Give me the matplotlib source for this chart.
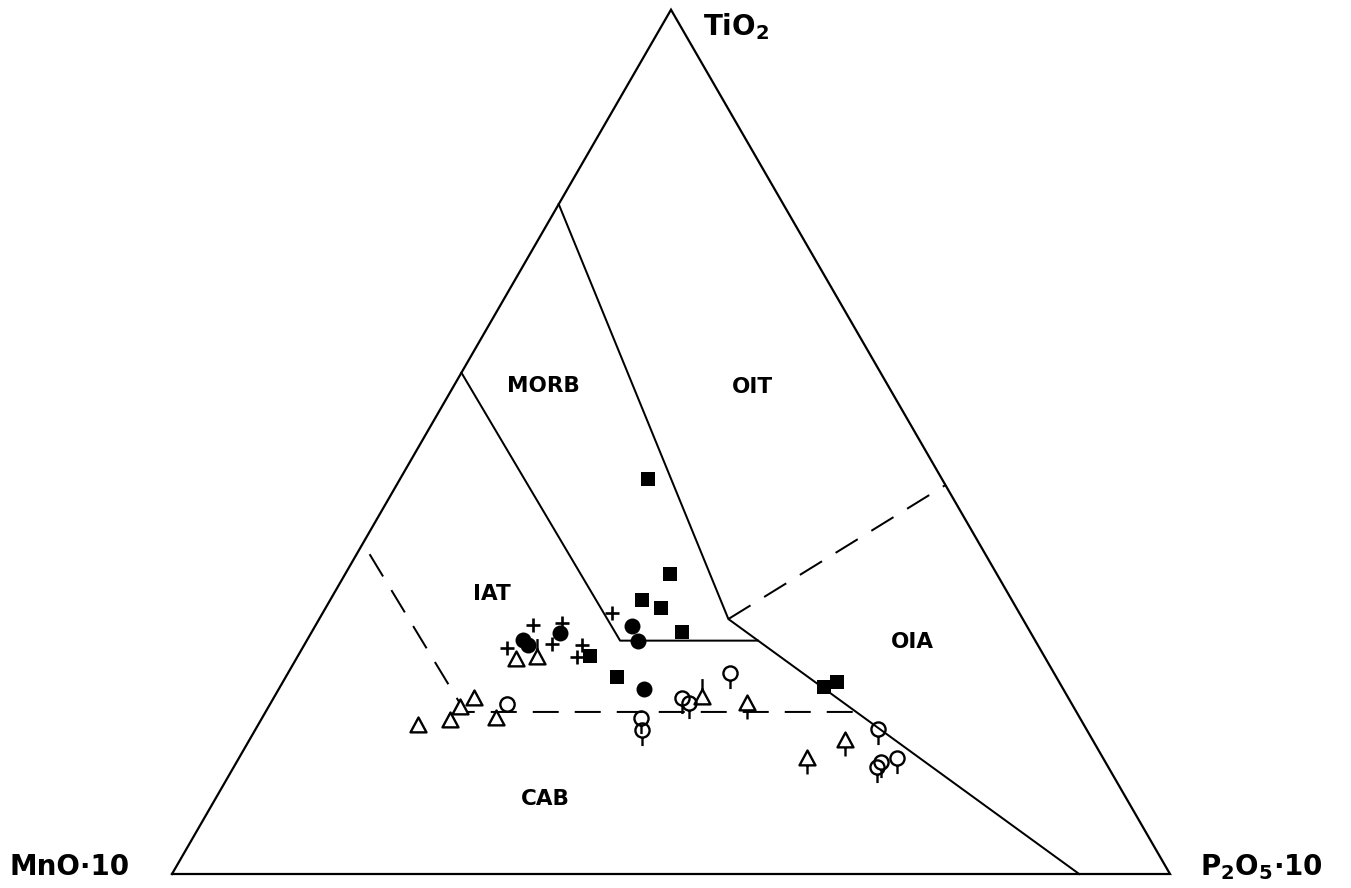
import numpy as np
import matplotlib
matplotlib.use("Agg")
import matplotlib.pyplot as plt
from matplotlib.path import Path

plt.rcParams['font.family'] = ['DejaVu Sans']
plt.rcParams['mathtext.fontset'] = 'dejavusans'
plt.rcParams['mathtext.default'] = 'bf'

# Compositions in percent: (MnO*10, TiO2, P2O5*10)
# filled squares
sq_mno = [29.5, 32.8, 37.1, 35.6, 34.9, 45.5, 44.0, 23.9, 22.3]
sq_tio2 = [45.7, 34.7, 31.7, 30.8, 28.0, 25.2, 22.8, 21.6, 22.2]
sq_p2o5 = [24.8, 32.5, 31.2, 33.6, 37.1, 29.3, 33.2, 54.5, 55.5]

# filled circles
fc_mno = [51.3, 51.1, 47.2, 39.6, 39.8, 42.0]
fc_tio2 = [27.1, 26.5, 27.9, 28.7, 27.0, 21.4]
fc_p2o5 = [21.6, 22.4, 24.9, 31.7, 33.2, 36.6]

# crosses
cr_mno = [49.4, 46.4, 53.3, 48.6, 45.7, 46.9, 40.8]
cr_tio2 = [28.8, 29.0, 26.2, 26.6, 26.5, 25.1, 30.2]
cr_p2o5 = [21.8, 24.6, 20.5, 24.8, 27.8, 28.0, 29.0]

# open triangles
tr_mno = [66.8, 63.2, 61.5, 59.5, 58.5, 53.1]
tr_tio2 = [17.2, 17.8, 19.3, 20.4, 18.0, 24.9]
tr_p2o5 = [16.0, 19.0, 19.2, 20.1, 23.5, 22.0]

# open triangles with upward tail
tu_mno = [50.9, 36.6]
tu_tio2 = [25.1, 20.5]
tu_p2o5 = [24.0, 42.9]

# open triangles with downward tail
td_mno = [32.5, 29.7, 24.8]
td_tio2 = [19.8, 13.4, 15.5]
td_p2o5 = [47.7, 56.9, 59.7]

# open circle
oc_mno = [56.6]
oc_tio2 = [19.7]
oc_p2o5 = [23.7]

# open circles with downward tail
ot_mno = [44.0, 44.6, 38.7, 38.3, 32.4, 20.9, 22.5, 23.2, 20.6]
ot_tio2 = [18.0, 16.7, 20.4, 19.8, 23.3, 16.8, 13.0, 12.4, 13.4]
ot_p2o5 = [38.0, 38.7, 40.9, 41.9, 44.3, 62.3, 64.5, 64.5, 65.9]

# field boundaries (MnO*10, TiO2, P2O5*10)
bnd_solid_1 = [(22.5, 77.5, 0.0), (29.5, 29.5, 41.0), (9.1, 0.0, 90.9)]
bnd_solid_2 = [(42.0, 58.0, 0.0), (41.6, 27.0, 31.4), (27.8, 27.0, 45.2)]
bnd_dash_1 = [(29.5, 29.5, 41.0), (0.0, 45.0, 55.0)]
bnd_dash_2 = [(61.7, 37.0, 1.3), (61.25, 18.75, 20.0), (22.05, 18.75, 59.2)]

W, H = 1351, 888
X0, Y0, SIDE = 172, 874, 998   # pixel position of the MnO corner and side length


def tern(mno, tio2, p2o5):
    m, t, p = (np.asarray(v, dtype=float) for v in (mno, tio2, p2o5))
    s = m + t + p
    t, p = t / s, p / s
    return p + t / 2.0, t * np.sqrt(3) / 2.0


def tern_pts(pts):
    a = np.array(pts, dtype=float)
    return tern(a[:, 0], a[:, 1], a[:, 2])


def fig_xy(x, y):
    return x / W, 1 - y / H


fig = plt.figure(figsize=(W / 100, H / 100), dpi=100)
ax = fig.add_axes([0, 0, 1, 1])
ax.set_xlim(-X0 / SIDE, (W - X0) / SIDE)
ax.set_ylim(-(H - Y0) / SIDE, Y0 / SIDE)
ax.axis('off')

LW = 1.6
# outer triangle
ox, oy = tern_pts([(100, 0, 0), (0, 0, 100), (0, 100, 0), (100, 0, 0)])
ax.plot(ox, oy, color='black', lw=LW, solid_joinstyle='miter')

for seg in (bnd_solid_1, bnd_solid_2):
    x, y = tern_pts(seg)
    ax.plot(x, y, color='black', lw=LW * 0.9)
for seg in (bnd_dash_1, bnd_dash_2):
    x, y = tern_pts(seg)
    ax.plot(x, y, color='black', lw=LW * 0.9, linestyle=(0, (13, 8)))

# custom symbols
tri = [(-1, -0.86), (1, -0.86), (0, 1.0), (-1, -0.86)]
tri_codes = [Path.MOVETO, Path.LINETO, Path.LINETO, Path.CLOSEPOLY]
tri_path = Path(tri, tri_codes)
tri_down = Path.make_compound_path(tri_path, Path([(0, -0.86), (0, -2.0)]))
tri_up = Path.make_compound_path(tri_path, Path([(0, 1.0), (0, 2.3)]))
circ_tail = Path.make_compound_path(Path.unit_circle(), Path([(0, -1), (0, -2.2)]))

MEW = 1.7
open_kw = dict(ls='none', mfc='white', mec='black', mew=MEW)

x, y = tern(tr_mno, tr_tio2, tr_p2o5)
ax.plot(x, y, marker=tri_path, ms=11.5, **open_kw)
x, y = tern(tu_mno, tu_tio2, tu_p2o5)
ax.plot(x, y, marker=tri_up, ms=26.5, **open_kw)
x, y = tern(td_mno, td_tio2, td_p2o5)
ax.plot(x, y, marker=tri_down, ms=23.0, **open_kw)
x, y = tern(oc_mno, oc_tio2, oc_p2o5)
ax.plot(x, y, marker='o', ms=10.3, **open_kw)
x, y = tern(ot_mno, ot_tio2, ot_p2o5)
ax.plot(x, y, marker=circ_tail, ms=22.4, ls='none', mfc='none', mec='black', mew=MEW)

x, y = tern(cr_mno, cr_tio2, cr_p2o5)
ax.plot(x, y, marker='+', ms=10.0, ls='none', color='black', mew=1.9)
x, y = tern(sq_mno, sq_tio2, sq_p2o5)
ax.plot(x, y, marker='s', ms=10.5, ls='none', color='black', mew=0)
x, y = tern(fc_mno, fc_tio2, fc_p2o5)
ax.plot(x, y, marker='o', ms=11.5, ls='none', color='black', mew=0)

# corner labels
corner_fs = 20
fig.text(*fig_xy(703, 35), 'TiO$_2$', fontsize=corner_fs, fontweight='bold',
         ha='left', va='baseline')
fig.text(*fig_xy(10, 875), 'MnO·10', fontsize=corner_fs, fontweight='bold',
         ha='left', va='baseline')
fig.text(*fig_xy(1200, 875), 'P$_2$O$_5$·10', fontsize=corner_fs, fontweight='bold',
         ha='left', va='baseline')

# field labels
field_names = ['MORB', 'OIT', 'IAT', 'OIA', 'CAB']
field_px = [(543, 386), (752, 387), (492, 594), (912, 642), (545, 799)]
for name, (px, py) in zip(field_names, field_px):
    fig.text(*fig_xy(px, py), name, fontsize=15.5, fontweight='bold',
             ha='center', va='center')

fig.savefig('out.png', dpi=100, facecolor='white')
